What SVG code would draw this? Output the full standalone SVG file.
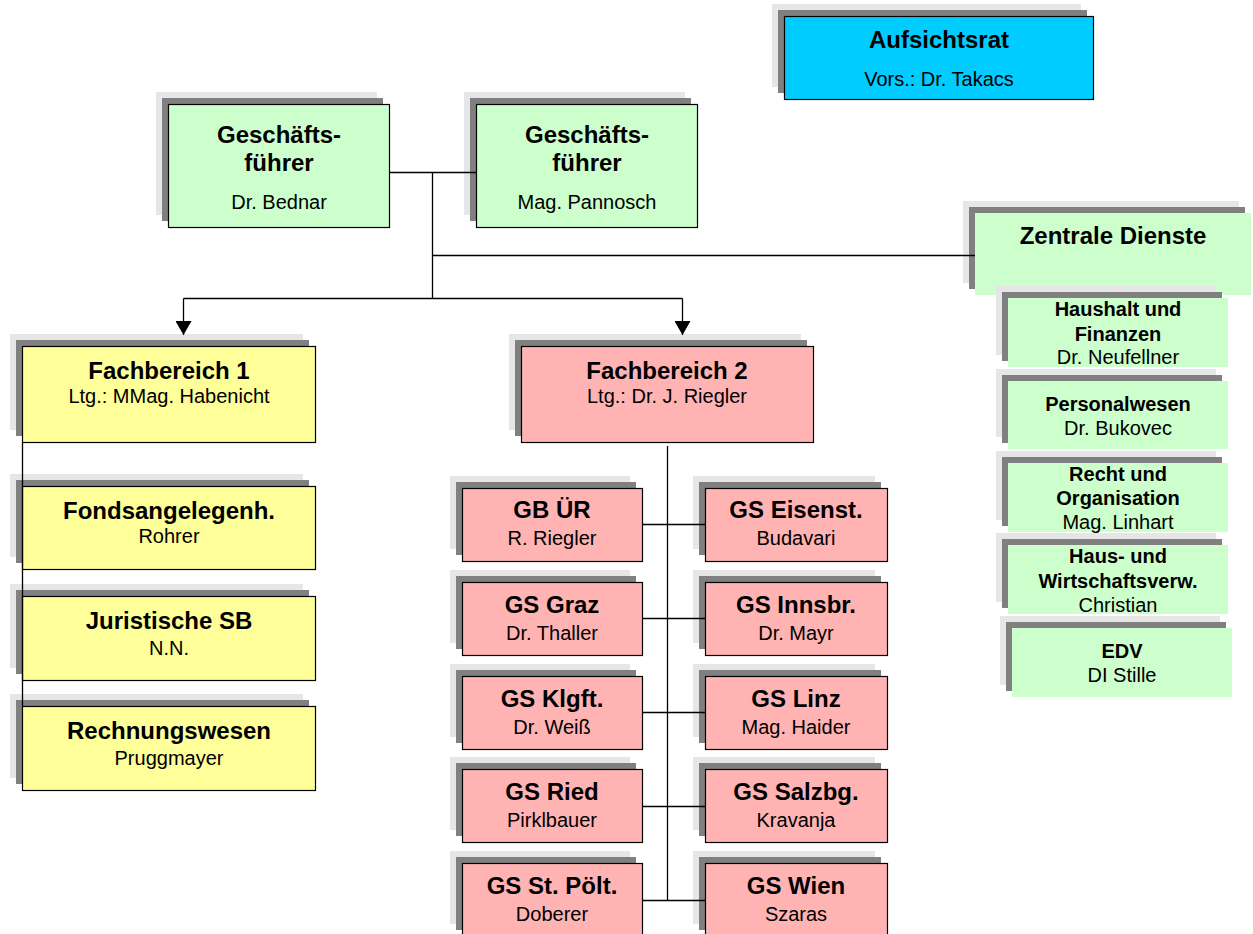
<svg xmlns="http://www.w3.org/2000/svg" width="1253" height="934" viewBox="0 0 1253 934">
<style>
.l{fill:#e6e6e6}
.d{fill:#808080}
.b{stroke:#000;stroke-width:1.2}
.cy{fill:#00ccff}
.gr{fill:#ccffcc}
.ye{fill:#ffff99}
.pk{fill:#ffb3b3}
text{font-family:"Liberation Sans",Arial,sans-serif;text-anchor:middle;fill:#000}
.t{font-size:24px;font-weight:bold}
.s{font-size:20px}
.ts{font-size:20px;font-weight:bold}
.c{stroke:#000;stroke-width:1.3;fill:none}
</style>
<defs>
<marker id="arr" markerUnits="userSpaceOnUse" markerWidth="15" markerHeight="16" viewBox="0 0 15 16" refX="14" refY="8" orient="auto">
<path d="M0,0 L14,8 L0,16 z" fill="#000"/>
</marker>
</defs>

<g id="aufsichtsrat">
<rect class="l" x="772" y="4" width="309" height="83"/>
<rect class="d" x="778" y="10" width="309" height="83"/>
<rect class="b cy" x="784.5" y="16.5" width="309" height="83"/>
<text class="t" x="939" y="48">Aufsichtsrat</text>
<text class="s" x="939" y="86">Vors.: Dr. Takacs</text>
</g>

<g id="gf1">
<rect class="l" x="156" y="92" width="221" height="123"/>
<rect class="d" x="162" y="98" width="221" height="123"/>
<rect class="b gr" x="168.5" y="104.5" width="221" height="123"/>
<text class="t" x="279" y="143">Geschäfts-</text>
<text class="t" x="279" y="171">führer</text>
<text class="s" x="279" y="209">Dr. Bednar</text>
</g>

<g id="gf2">
<rect class="l" x="464" y="92" width="221" height="123"/>
<rect class="d" x="470" y="98" width="221" height="123"/>
<rect class="b gr" x="476.5" y="104.5" width="221" height="123"/>
<text class="t" x="587" y="143">Geschäfts-</text>
<text class="t" x="587" y="171">führer</text>
<text class="s" x="587" y="209">Mag. Pannosch</text>
</g>

<g id="zentrale-dienste">
<rect class="l" x="963" y="201" width="276" height="82"/>
<rect class="d" x="969" y="207" width="276" height="82"/>
<rect class="gr" x="975" y="213" width="276" height="82"/>
<text class="t" x="1113" y="244">Zentrale Dienste</text>
</g>

<g id="haushalt">
<rect class="l" x="996" y="286" width="220" height="69"/>
<rect class="d" x="1002" y="292" width="220" height="69"/>
<rect class="gr" x="1008" y="298" width="220" height="69"/>
<text class="ts" x="1118" y="316">Haushalt und</text>
<text class="ts" x="1118" y="341">Finanzen</text>
<text class="s" x="1118" y="364">Dr. Neufellner</text>
</g>

<g id="personalwesen">
<rect class="l" x="996" y="369" width="220" height="68"/>
<rect class="d" x="1002" y="375" width="220" height="68"/>
<rect class="gr" x="1008" y="381" width="220" height="68"/>
<text class="ts" x="1118" y="411">Personalwesen</text>
<text class="s" x="1118" y="435">Dr. Bukovec</text>
</g>

<g id="recht">
<rect class="l" x="996" y="451" width="220" height="69"/>
<rect class="d" x="1002" y="457" width="220" height="69"/>
<rect class="gr" x="1008" y="463" width="220" height="69"/>
<text class="ts" x="1118" y="481">Recht und</text>
<text class="ts" x="1118" y="505">Organisation</text>
<text class="s" x="1118" y="529">Mag. Linhart</text>
</g>

<g id="haus-wirtschaft">
<rect class="l" x="996" y="533" width="220" height="69"/>
<rect class="d" x="1002" y="539" width="220" height="69"/>
<rect class="gr" x="1008" y="545" width="220" height="69"/>
<text class="ts" x="1118" y="563">Haus- und</text>
<text class="ts" x="1118" y="588">Wirtschaftsverw.</text>
<text class="s" x="1118" y="612">Christian</text>
</g>

<g id="edv">
<rect class="l" x="1000" y="616" width="220" height="69"/>
<rect class="d" x="1006" y="622" width="220" height="69"/>
<rect class="gr" x="1012" y="628" width="220" height="69"/>
<text class="ts" x="1122" y="658">EDV</text>
<text class="s" x="1122" y="682">DI Stille</text>
</g>

<g id="fb1">
<rect class="l" x="10" y="334" width="293" height="96"/>
<rect class="d" x="16" y="340" width="293" height="96"/>
<rect class="b ye" x="22.5" y="346.5" width="293" height="96"/>
<text class="t" x="169" y="379">Fachbereich 1</text>
<text class="s" x="169" y="403">Ltg.: MMag. Habenicht</text>
</g>

<g id="fonds">
<rect class="l" x="10" y="474" width="293" height="83"/>
<rect class="d" x="16" y="480" width="293" height="83"/>
<rect class="b ye" x="22.5" y="486.5" width="293" height="83"/>
<text class="t" x="169" y="519">Fondsangelegenh.</text>
<text class="s" x="169" y="543">Rohrer</text>
</g>

<g id="juristische">
<rect class="l" x="10" y="584" width="293" height="84"/>
<rect class="d" x="16" y="590" width="293" height="84"/>
<rect class="b ye" x="22.5" y="596.5" width="293" height="84"/>
<text class="t" x="169" y="629">Juristische SB</text>
<text class="s" x="169" y="655">N.N.</text>
</g>

<g id="rechnungswesen">
<rect class="l" x="10" y="694" width="293" height="84"/>
<rect class="d" x="16" y="700" width="293" height="84"/>
<rect class="b ye" x="22.5" y="706.5" width="293" height="84"/>
<text class="t" x="169" y="739">Rechnungswesen</text>
<text class="s" x="169" y="765">Pruggmayer</text>
</g>

<g id="fb2">
<rect class="l" x="509" y="334" width="292" height="96"/>
<rect class="d" x="515" y="340" width="292" height="96"/>
<rect class="b pk" x="521.5" y="346.5" width="292" height="96"/>
<text class="t" x="667" y="379">Fachbereich 2</text>
<text class="s" x="667" y="403">Ltg.: Dr. J. Riegler</text>
</g>

<g id="gb-uer">
<rect class="l" x="450" y="476" width="180" height="73"/>
<rect class="d" x="456" y="482" width="180" height="73"/>
<rect class="b pk" x="462.5" y="488.5" width="180" height="73"/>
<text class="t" x="552" y="518">GB ÜR</text>
<text class="s" x="552" y="545">R. Riegler</text>
</g>
<g id="gs-eisenstadt">
<rect class="l" x="693" y="476" width="182" height="73"/>
<rect class="d" x="699" y="482" width="182" height="73"/>
<rect class="b pk" x="705.5" y="488.5" width="182" height="73"/>
<text class="t" x="796" y="518">GS Eisenst.</text>
<text class="s" x="796" y="545">Budavari</text>
</g>

<g id="gs-graz">
<rect class="l" x="450" y="570" width="180" height="73"/>
<rect class="d" x="456" y="576" width="180" height="73"/>
<rect class="b pk" x="462.5" y="582.5" width="180" height="73"/>
<text class="t" x="552" y="613">GS Graz</text>
<text class="s" x="552" y="640">Dr. Thaller</text>
</g>
<g id="gs-innsbruck">
<rect class="l" x="693" y="570" width="182" height="73"/>
<rect class="d" x="699" y="576" width="182" height="73"/>
<rect class="b pk" x="705.5" y="582.5" width="182" height="73"/>
<text class="t" x="796" y="613">GS Innsbr.</text>
<text class="s" x="796" y="640">Dr. Mayr</text>
</g>

<g id="gs-klagenfurt">
<rect class="l" x="450" y="664" width="180" height="73"/>
<rect class="d" x="456" y="670" width="180" height="73"/>
<rect class="b pk" x="462.5" y="676.5" width="180" height="73"/>
<text class="t" x="552" y="707">GS Klgft.</text>
<text class="s" x="552" y="734">Dr. Weiß</text>
</g>
<g id="gs-linz">
<rect class="l" x="693" y="664" width="182" height="73"/>
<rect class="d" x="699" y="670" width="182" height="73"/>
<rect class="b pk" x="705.5" y="676.5" width="182" height="73"/>
<text class="t" x="796" y="707">GS Linz</text>
<text class="s" x="796" y="734">Mag. Haider</text>
</g>

<g id="gs-ried">
<rect class="l" x="450" y="757" width="180" height="73"/>
<rect class="d" x="456" y="763" width="180" height="73"/>
<rect class="b pk" x="462.5" y="769.5" width="180" height="73"/>
<text class="t" x="552" y="800">GS Ried</text>
<text class="s" x="552" y="827">Pirklbauer</text>
</g>
<g id="gs-salzburg">
<rect class="l" x="693" y="757" width="182" height="73"/>
<rect class="d" x="699" y="763" width="182" height="73"/>
<rect class="b pk" x="705.5" y="769.5" width="182" height="73"/>
<text class="t" x="796" y="800">GS Salzbg.</text>
<text class="s" x="796" y="827">Kravanja</text>
</g>

<g id="gs-stpoelten">
<rect class="l" x="450" y="851" width="180" height="73"/>
<rect class="d" x="456" y="857" width="180" height="73"/>
<rect class="b pk" x="462.5" y="863.5" width="180" height="73"/>
<text class="t" x="552" y="894">GS St. Pölt.</text>
<text class="s" x="552" y="921">Doberer</text>
</g>
<g id="gs-wien">
<rect class="l" x="693" y="851" width="182" height="73"/>
<rect class="d" x="699" y="857" width="182" height="73"/>
<rect class="b pk" x="705.5" y="863.5" width="182" height="73"/>
<text class="t" x="796" y="894">GS Wien</text>
<text class="s" x="796" y="921">Szaras</text>
</g>

<g id="connectors" class="c">
<path d="M389,172.5 H476"/>
<path d="M432.5,172.5 V298.5"/>
<path d="M432.5,255.5 H975"/>
<path d="M183.5,298.5 H682.5"/>
<path d="M183.5,298.5 V335" marker-end="url(#arr)"/>
<path d="M682.5,298.5 V335" marker-end="url(#arr)"/>
<path d="M22.5,442 V706"/>
<path d="M667.5,446 V900.5"/>
<path d="M642,524.5 H705"/>
<path d="M642,618.5 H705"/>
<path d="M642,712.5 H705"/>
<path d="M642,806.5 H705"/>
<path d="M642,900.5 H705"/>
</g>
</svg>
